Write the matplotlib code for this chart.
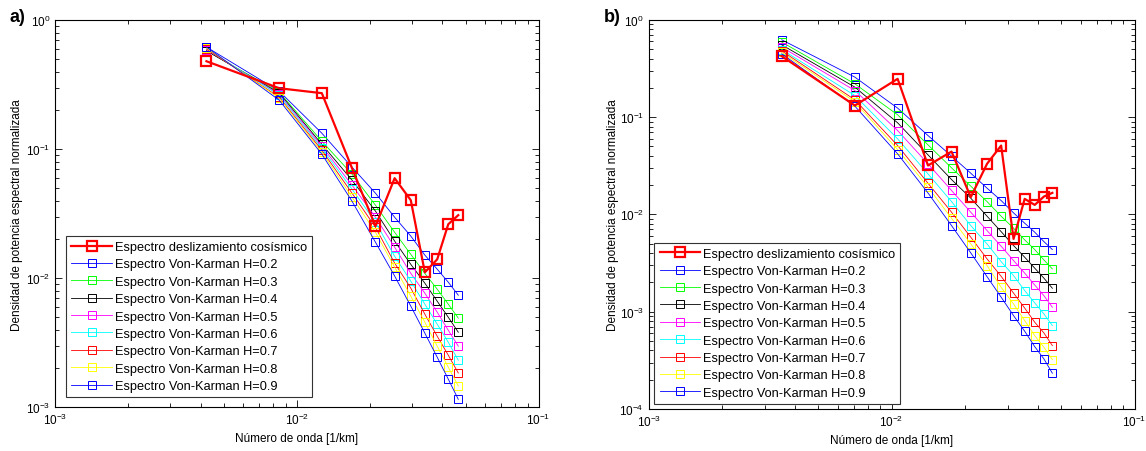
import matplotlib
matplotlib.use("Agg")
import matplotlib.pyplot as plt

plt.rcParams['font.family'] = ['Liberation Sans', 'DejaVu Sans']

# numero de onda [1/km]
k_a = [0.00423, 0.00846, 0.01269, 0.01692, 0.02115, 0.02538, 0.02961,
       0.03384, 0.03807, 0.0423, 0.04653]
k_b = [0.00353, 0.00706, 0.01059, 0.01412, 0.01765, 0.02118, 0.02471,
       0.02824, 0.03177, 0.0353, 0.03883, 0.04236, 0.04589]

# espectro del deslizamiento cosismico
slip_a = [0.481, 0.297, 0.272, 0.0712, 0.0253, 0.0596, 0.0402, 0.0111,
          0.0140, 0.0262, 0.0308]
slip_b = [0.423, 0.1315, 0.2473, 0.0318, 0.0442, 0.01503, 0.0331, 0.0510,
          0.00560, 0.01443, 0.01252, 0.01524, 0.01664]

hurst = [0.2, 0.3, 0.4, 0.5, 0.6, 0.7, 0.8, 0.9]
vk_colors = ['blue', 'lime', 'black', 'magenta', 'cyan', 'red', 'yellow', 'blue']

# espectros Von-Karman, panel a)
vk_a = [
    [0.62, 0.2816, 0.1331, 0.0725, 0.0456, 0.0297, 0.0212, 0.0151, 0.01174, 0.00931, 0.00738],
    [0.58, 0.2766, 0.1153, 0.0640, 0.0368, 0.0227, 0.0153, 0.0109, 0.00822, 0.00629, 0.00490],
    [0.58, 0.2720, 0.1093, 0.0575, 0.0331, 0.0194, 0.0128, 0.00915, 0.00663, 0.00498, 0.00381],
    [0.59, 0.2669, 0.1055, 0.0526, 0.0297, 0.0174, 0.0109, 0.00765, 0.00545, 0.00395, 0.00297],
    [0.60, 0.2622, 0.1018, 0.0490, 0.0272, 0.0148, 0.00948, 0.00629, 0.00440, 0.00319, 0.00231],
    [0.60, 0.2530, 0.0982, 0.0456, 0.0248, 0.0131, 0.00837, 0.00526, 0.00355, 0.00253, 0.00184],
    [0.61, 0.2485, 0.0948, 0.0425, 0.0227, 0.0122, 0.00725, 0.00456, 0.00297, 0.00204, 0.00146],
    [0.62, 0.2398, 0.0915, 0.0395, 0.0190, 0.0104, 0.00607, 0.00375, 0.00244, 0.00165, 0.00115],
]

# espectros Von-Karman, panel b)
vk_b = [
    [0.623, 0.2575, 0.1236, 0.0646, 0.0397, 0.0265, 0.0186, 0.01387, 0.01036, 0.00812, 0.00656, 0.00525, 0.00435],
    [0.590, 0.2197, 0.1055, 0.0518, 0.0301, 0.0195, 0.01354, 0.00958, 0.00721, 0.00547, 0.00435, 0.00340, 0.00275],
    [0.553, 0.2032, 0.0873, 0.0409, 0.0228, 0.01467, 0.00958, 0.00665, 0.00478, 0.00363, 0.00280, 0.00221, 0.00174],
    [0.524, 0.1875, 0.0727, 0.0331, 0.0176, 0.01053, 0.00682, 0.00471, 0.00335, 0.00249, 0.00188, 0.00146, 0.00111],
    [0.495, 0.1666, 0.0597, 0.0261, 0.01354, 0.00767, 0.00497, 0.00327, 0.00235, 0.00165, 0.00123, 0.000948, 0.000719],
    [0.480, 0.1505, 0.0510, 0.0209, 0.01053, 0.00583, 0.00349, 0.00231, 0.00155, 0.00109, 0.000779, 0.000605, 0.000448],
    [0.463, 0.1435, 0.0464, 0.0190, 0.00914, 0.00497, 0.00298, 0.00178, 0.00120, 0.000809, 0.000567, 0.000431, 0.000321],
    [0.447, 0.1296, 0.0419, 0.0166, 0.00767, 0.00402, 0.00229, 0.00141, 0.000911, 0.000630, 0.000437, 0.000327, 0.000233],
]


def draw_panel(ax, k, slip, vk, ylim, legend_anchor):
    ax.loglog(k, slip, '-s', color='red', lw=1.6, ms=6.5, mfc='none',
              mew=1.6, label='Espectro deslizamiento cosísmico', zorder=5)
    for h, col, serie in zip(hurst, vk_colors, vk):
        ax.loglog(k, serie, '-s', color=col, lw=0.6, ms=5.8, mfc='none',
                  mew=0.7, label='Espectro Von-Karman H=%.1f' % h)
    ax.set_xlim(1e-3, 1e-1)
    ax.set_ylim(*ylim)
    ax.tick_params(which='both', direction='in', top=True, right=True,
                   labelsize=8.5, width=0.6)
    ax.tick_params(which='major', length=5)
    ax.tick_params(which='minor', length=3)
    for sp in ax.spines.values():
        sp.set_linewidth(0.8)
    ax.set_xlabel('Número de onda [1/km]', fontsize=8.5)
    ax.set_ylabel('Densidad de potencia espectral normalizada', fontsize=8.5)
    leg = ax.legend(loc='lower left', bbox_to_anchor=legend_anchor,
                    fontsize=9.2, fancybox=False, framealpha=1,
                    edgecolor='#333333', handlelength=3.2, handletextpad=0.2,
                    labelspacing=0.42, borderpad=0.4, borderaxespad=0)
    leg.get_frame().set_linewidth(0.8)


fig = plt.figure(figsize=(11.46, 4.52), dpi=100)
ax1 = fig.add_axes([0.048, 0.097, 0.422, 0.856])
ax2 = fig.add_axes([0.566, 0.093, 0.424, 0.861])

draw_panel(ax1, k_a, slip_a, vk_a, (1e-3, 1), (0.023, 0.026))
draw_panel(ax2, k_b, slip_b, vk_b, (1e-4, 1), (0.012, 0.013))

ax1.yaxis.set_label_coords(-0.066, 0.5)
ax2.yaxis.set_label_coords(-0.060, 0.5)
ax1.xaxis.set_label_coords(0.5, -0.065)
ax2.xaxis.set_label_coords(0.5, -0.065)

fig.text(0.008, 0.962, 'a)', fontsize=13, fontweight='bold', va='center')
fig.text(0.527, 0.962, 'b)', fontsize=13, fontweight='bold', va='center')

fig.savefig('out.png', dpi=100)
